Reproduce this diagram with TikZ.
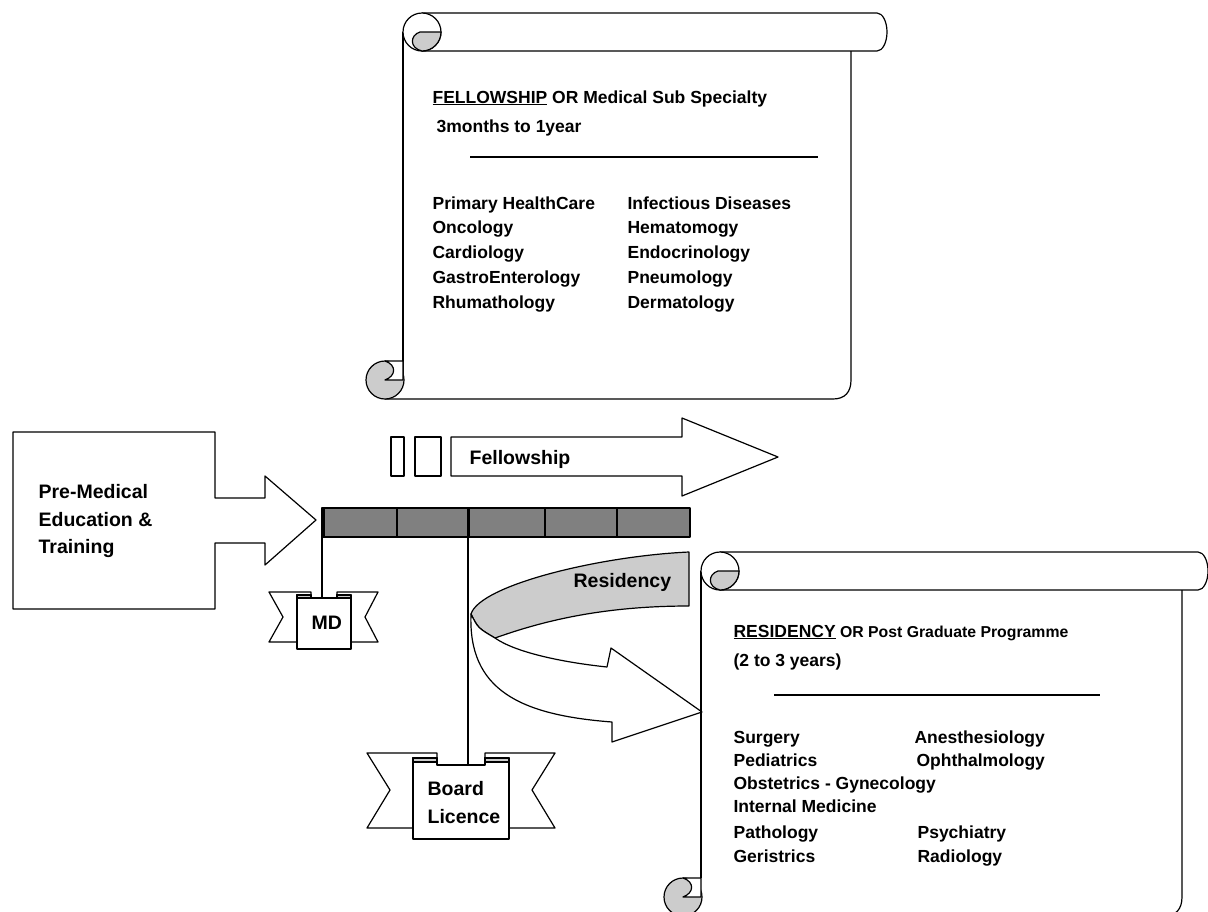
\documentclass[tikz,border=0pt]{standalone}
\usepackage{fontspec}
\setmainfont{Liberation Sans}
\usepackage{tikz}

\begin{document}
\begin{tikzpicture}[x=1pt,y=-1pt,line width=1.2pt,line join=round,
    txt/.style={anchor=base west,inner sep=0pt,font=\fontsize{17.5}{21}\selectfont\bfseries},
    lbl/.style={anchor=base west,inner sep=0pt,font=\fontsize{19.5}{24}\selectfont\bfseries},
    curl/.style={draw=black,fill=gray!40}]
    \useasboundingbox (0,0) rectangle (1208,911);
    \clip (0,0) rectangle (1208,911);

    % fellowship scroll
    \begin{scope}
        \draw (422,13) -- (877,13)
            arc[start angle=-90,end angle=90,x radius=10,y radius=19]
            -- (422,51);
        \draw (403,32) -- (403,380);
        \draw (851,51) -- (851,380) .. controls (851,392) and (845,399) .. (833,399)
            -- (385,399);
        \filldraw[fill=white] (422,32) circle[radius=19];
        \filldraw[curl] (441,32) -- (420,32) .. controls (410,35) and (409,48) .. (422,51)
            arc[start angle=90,end angle=0,radius=19] -- cycle;
        \filldraw[curl] (385,380) circle[radius=19];
        \filldraw[fill=white] (385,361) -- (403,361) -- (403,380) -- (385,380)
            .. controls (396,376) and (397,365) .. (385,361);

        \node[txt] (fhead) at (432,103) {\underline{FELLOWSHIP} OR Medical Sub Specialty};
        \node[txt] (fdur) at (436,132) {3months to 1year};
        \draw (470,157) -- (818,157);
        \node[txt] (f1) at (432,209) {Primary HealthCare};
        \node[txt] (f2) at (432,233) {Oncology};
        \node[txt] (f3) at (432,258) {Cardiology};
        \node[txt] (f4) at (432,283) {GastroEnterology};
        \node[txt] (f5) at (432,308) {Rhumathology};
        \node[txt] (f6) at (627,209) {Infectious Diseases};
        \node[txt] (f7) at (627,233) {Hematomogy};
        \node[txt] (f8) at (627,258) {Endocrinology};
        \node[txt] (f9) at (627,283) {Pneumology};
        \node[txt] (f10) at (627,308) {Dermatology};
    \end{scope}

    % residency scroll
    \begin{scope}
        \draw (720,552) -- (1198,552)
            arc[start angle=-90,end angle=90,x radius=10,y radius=19]
            -- (720,590);
        \draw (701,571) -- (701,878);
        \draw (1182,590) -- (1182,897) .. controls (1182,909) and (1176,916) .. (1164,916)
            -- (683,916);
        \filldraw[fill=white] (720,571) circle[radius=19];
        \filldraw[curl] (739,571) -- (718,571) .. controls (708,574) and (707,587) .. (720,590)
            arc[start angle=90,end angle=0,radius=19] -- cycle;
        \filldraw[curl] (683,897) circle[radius=19];
        \filldraw[fill=white] (683,878) -- (701,878) -- (701,897) -- (683,897)
            .. controls (694,893) and (695,882) .. (683,878);

        \node[txt] (rhead) at (733,637)
            {\underline{RESIDENCY}\fontsize{15.8}{19}\selectfont\ OR Post Graduate Programme};
        \node[txt] (rdur) at (733,666) {(2 to 3 years)};
        \draw (774,695) -- (1100,695);
        \node[txt] (r1) at (733,743) {Surgery};
        \node[txt] (r2) at (733,766) {Pediatrics};
        \node[txt] (r3) at (733,789) {Obstetrics - Gynecology};
        \node[txt] (r4) at (733,812) {Internal Medicine};
        \node[txt] (r5) at (733,838) {Pathology};
        \node[txt] (r6) at (733,862) {Geristrics};
        \node[txt] (r7) at (914,743) {Anesthesiology};
        \node[txt] (r8) at (916,766) {Ophthalmology};
        \node[txt] (r9) at (917,838) {Psychiatry};
        \node[txt] (r10) at (917,862) {Radiology};
    \end{scope}

    % pre-medical block arrow
    \filldraw[fill=white] (13,432) -- (215,432) -- (215,498) -- (265,498) -- (265,476)
        -- (316,520) -- (265,565) -- (265,543) -- (215,543) -- (215,609) -- (13,609) -- cycle;
    \node[lbl] (pre1) at (38,498) {Pre-Medical};
    \node[lbl] (pre2) at (38,526) {Education \&};
    \node[lbl] (pre3) at (38,553) {Training};

    % time bar
    \filldraw[fill=gray] (322,508) rectangle (690,537);
    \draw (397,508) -- (397,537);
    \draw (545,508) -- (545,537);
    \draw (617,508) -- (617,537);
    \draw[line width=3pt] (323,508) -- (323,537);
    \draw[line width=3pt] (468,508) -- (468,537);
    \coordinate (mdtick) at (322,537);
    \coordinate (bdtick) at (468,537);

    % fellowship arrow
    \draw (391,437) rectangle (404,476);
    \draw (415,437) rectangle (441,476);
    \draw (451,437) -- (682,437) -- (682,418) -- (778,457) -- (682,496) -- (682,476)
        -- (451,476) -- cycle;
    \node[lbl] (fellow) at (469,464) {Fellowship};

    % residency curved arrow
    \filldraw[curl] (689,552) .. controls (600,556) and (480,585) .. (471,614)
        .. controls (478,628) .. (495,638)
        .. controls (540,622) and (600,606) .. (689,606) -- cycle;
    \filldraw[fill=white] (471,614) .. controls (468,690) and (520,715) .. (612,722)
        -- (612,742) -- (702,712) -- (611,648) -- (607,667)
        .. controls (560,662) and (515,652) .. (495,638)
        .. controls (478,628) .. (471,614) -- cycle;
    \node[lbl] (resid) at (573,587) {Residency};

    % MD ribbon
    \coordinate (mdpanel) at (322,598);
    \draw (mdtick) -- (mdpanel);
    \filldraw[fill=white] (269,592) -- (311,592) -- (311,642) -- (269,642) -- (283,617) -- cycle;
    \filldraw[fill=white] (378,592) -- (337,592) -- (337,642) -- (378,642) -- (365,617) -- cycle;
    \filldraw[fill=white] (297,595) -- (297,649) -- (351,649) -- (351,595) -- (337,595)
        -- (337,598) -- (311,598) -- (311,595) -- cycle;
    \filldraw[curl] (297,595) rectangle (311,598);
    \filldraw[curl] (337,595) rectangle (351,598);
    \node[lbl] (md) at (311,629) {MD};

    % board licence ribbon
    \coordinate (bdpanel) at (468,765);
    \draw (bdtick) -- (bdpanel);
    \filldraw[fill=white] (367,753) -- (437,753) -- (437,828) -- (367,828) -- (390,790) -- cycle;
    \filldraw[fill=white] (555,753) -- (485,753) -- (485,828) -- (555,828) -- (532,790) -- cycle;
    \filldraw[fill=white] (413,758) -- (413,839) -- (509,839) -- (509,758) -- (485,758)
        -- (485,765) -- (437,765) -- (437,758) -- cycle;
    \filldraw[curl] (413,758) rectangle (437,762);
    \filldraw[curl] (485,758) rectangle (509,762);
    \node[lbl] (board) at (427,795) {Board};
    \node[lbl] (licence) at (427,823) {Licence};
\end{tikzpicture}
\end{document}
